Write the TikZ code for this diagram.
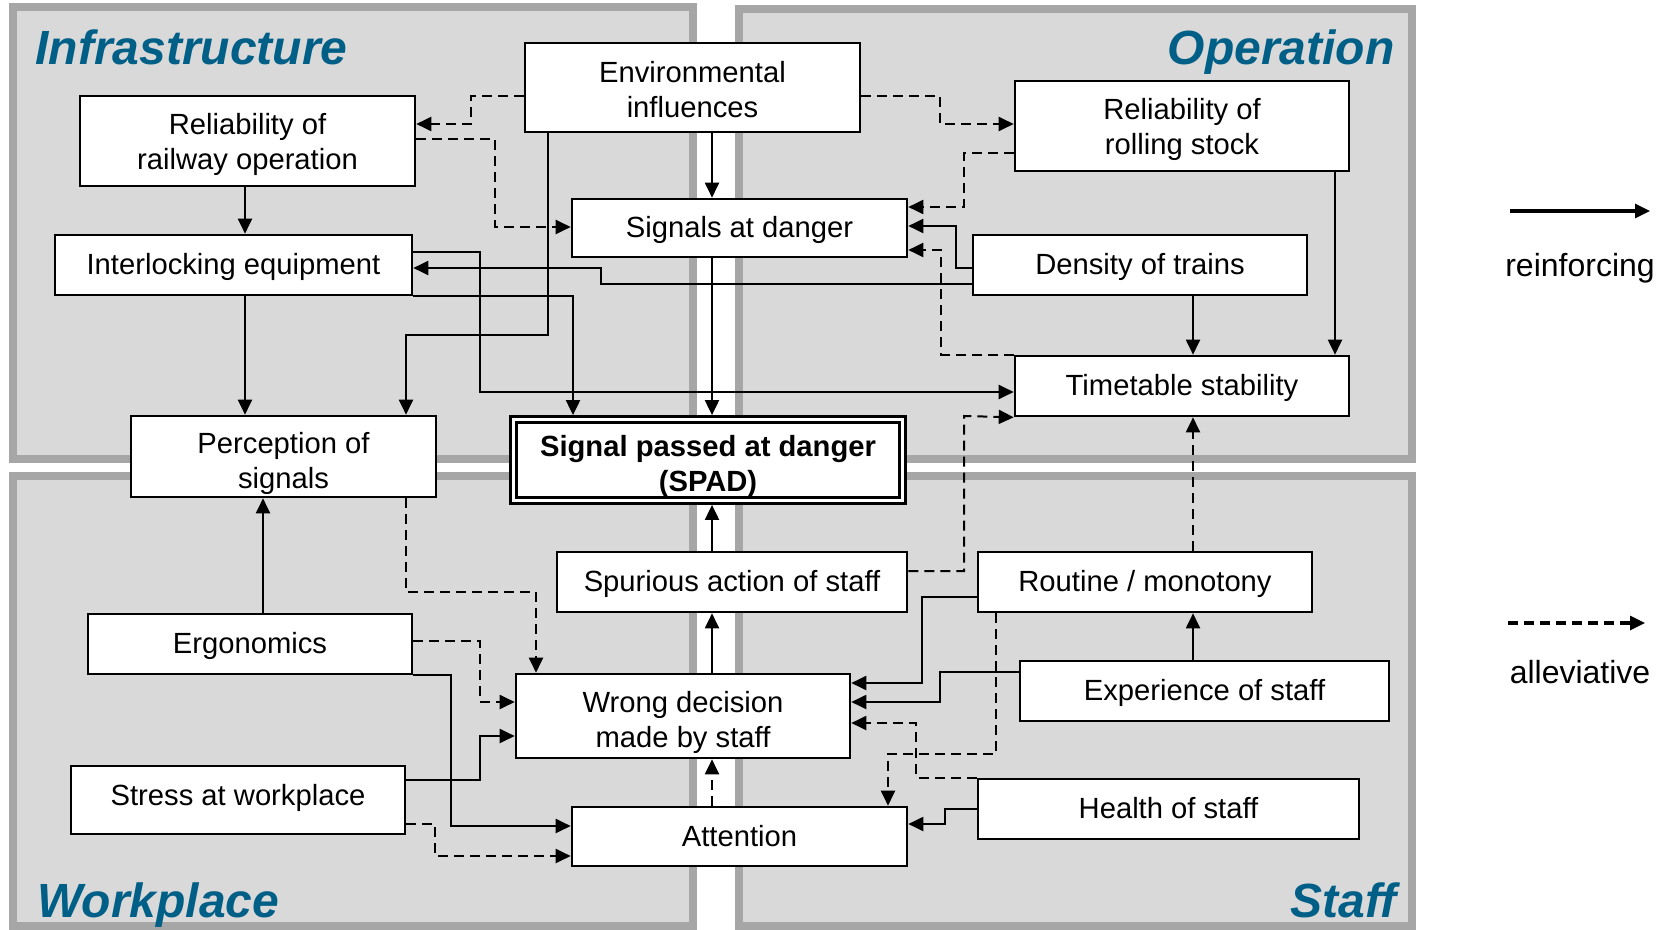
\documentclass[tikz,border=0pt]{standalone}
\usepackage{fontspec}
\setmainfont{Liberation Sans}
\usetikzlibrary{arrows.meta}
\definecolor{panelfill}{HTML}{D9D9D9}
\definecolor{panelrule}{HTML}{A6A6A6}
\definecolor{headblue}{RGB}{0,95,135}
\begin{document}
\begin{tikzpicture}[x=0.5pt,y=-0.5pt,
  panel/.style={draw=panelrule, fill=panelfill, line width=4pt},
  heading/.style={font=\fontsize{24}{28}\selectfont\bfseries\itshape, text=headblue, inner sep=0pt},
  box/.style={draw, fill=white, line width=1.3pt, align=center, inner sep=0pt,
    text depth=1pt, font=\fontsize{14.6}{17.5}\selectfont},
  spadbox/.style={box, double, double distance=1.25pt, line width=1.5pt, outer sep=2.2pt,
    font=\fontsize{14.6}{17.5}\selectfont\bfseries},
  reinf/.style={line width=1pt, -{Triangle[length=7.5pt,width=7pt]}},
  alle/.style={reinf, dash pattern=on 5pt off 3pt},
  legendtext/.style={font=\fontsize{16}{19}\selectfont, inner sep=0pt},
]
\useasboundingbox (0,0) rectangle (1668,930);

% four thematic panels
\draw[panel] (13,7) rectangle (693,459);
\draw[panel] (739,9) rectangle (1412,459);
\draw[panel] (13,476) rectangle (693,926);
\draw[panel] (739,476) rectangle (1412,926);

\node[heading, anchor=base west] (hinfra) at (35,65) {Infrastructure};
\node[heading, anchor=base east] (hoper) at (1395,65) {Operation};
\node[heading, anchor=base west] (hwork) at (37,917) {Workplace};
\node[heading, anchor=base east] (hstaff) at (1397,917) {Staff};

% factors
\node[box, text height=29.2pt, minimum width=167.5pt, minimum height=45pt] (relrail) at (247.5,141) {Reliability of\\railway operation};
\node[box, minimum width=178.5pt, minimum height=30pt] (inter) at (233.5,265) {Interlocking equipment};
\node[box, text height=33.4pt, minimum width=152.5pt, minimum height=40.5pt] (percep) at (283.5,456.5) {Perception of\\signals};
\node[box, text height=31.3pt, minimum width=167.5pt, minimum height=44.5pt] (env) at (692.5,87.5) {Environmental\\influences};
\node[box, minimum width=167.5pt, minimum height=29pt] (sigdanger) at (739.5,228) {Signals at danger};
\node[spadbox, text height=32.4pt, minimum width=194.5pt, minimum height=40.5pt] (spad) at (708,460) {Signal passed at danger\\(SPAD)};
\node[box, text height=29.2pt, minimum width=167pt, minimum height=45pt] (relroll) at (1182,126) {Reliability of\\rolling stock};
\node[box, minimum width=167pt, minimum height=30pt] (density) at (1140,265) {Density of trains};
\node[box, minimum width=167pt, minimum height=30pt] (timetable) at (1182,386) {Timetable stability};
\node[box, minimum width=175pt, minimum height=30pt] (spurious) at (732,582) {Spurious action of staff};
\node[box, text height=32.4pt, minimum width=167pt, minimum height=42pt] (wrong) at (683,716) {Wrong decision\\made by staff};
\node[box, minimum width=167.5pt, minimum height=29.5pt] (attention) at (739.5,836.5) {Attention};
\node[box, minimum width=167pt, minimum height=30pt] (routine) at (1145,582) {Routine / monotony};
\node[box, minimum width=184.5pt, minimum height=30pt] (experience) at (1204.5,691) {Experience of staff};
\node[box, minimum width=190.5pt, minimum height=30pt] (health) at (1168.5,809) {Health of staff};
\node[box, minimum width=162pt, minimum height=30pt] (ergo) at (250,644) {Ergonomics};
\node[box, text depth=5.2pt, minimum width=167pt, minimum height=34pt] (stress) at (238,800) {Stress at workplace};

% influences in the infrastructure panel
\draw[alle] (env.west |- 0,96) -| (471,124) -- (relrail.east |- 0,124);
\draw[alle] (relrail.east |- 0,139) -| (495,227) -- (sigdanger.west |- 0,227);
\draw[reinf] (relrail.south -| 245,0) -- (inter.north -| 245,0);
\draw[reinf] (inter.south -| 245,0) -- (percep.north -| 245,0);
\draw[reinf] (env.south -| 548,0) |- (406,335) -- (percep.north -| 406,0);
\draw[reinf] (inter.east |- 0,252) -| (480,392) -- (timetable.west |- 0,392);
\draw[reinf] (density.west |- 0,284) -| (601,268) -- (inter.east |- 0,268);
\draw[reinf] (inter.south east) -| (spad.north -| 573,0);
\draw[reinf] (env.south -| 712,0) -- (sigdanger.north -| 712,0);
\draw[reinf] (sigdanger.south -| 712,0) -- (spad.north -| 712,0);

% influences in the operation panel
\draw[alle] (env.east |- 0,96) -| (940,124) -- (relroll.west |- 0,124);
\draw[alle] (relroll.west |- 0,153) -| (964,207) -- (sigdanger.east |- 0,207);
\draw[reinf] (density.west |- 0,268) -| (956,226) -- (sigdanger.east |- 0,226);
\draw[alle] (timetable.north west) -| (941,250) -- (sigdanger.east |- 0,250);
\draw[reinf] (density.south -| 1193,0) -- (timetable.north -| 1193,0);
\draw[reinf] (relroll.south -| 1335,0) -- (timetable.north -| 1335,0);

% influences in the staff panel
\draw[alle] (spurious.east |- 0,571) -| (964,416) -- (timetable.south west);
\draw[alle] (routine.north -| 1193,0) -- (timetable.south -| 1193,0);
\draw[reinf] (experience.north -| 1193,0) -- (routine.south -| 1193,0);
\draw[reinf] (spurious.north -| 712,0) -- (spad.south -| 712,0);
\draw[reinf] (wrong.north -| 712,0) -- (spurious.south -| 712,0);
\draw[alle] (attention.north -| 712,0) -- (wrong.south -| 712,0);
\draw[reinf] (routine.west |- 0,597) -| (922,683) -- (wrong.east |- 0,683);
\draw[reinf] (experience.west |- 0,672) -| (940,702) -- (wrong.east |- 0,702);
\draw[alle] (health.north west) -| (916,723) -- (wrong.east |- 0,723);
\draw[alle] (routine.south -| 996,0) |- (888,754) -- (attention.north -| 888,0);
\draw[reinf] (health.west |- 0,809) -| (945,824) -- (attention.east |- 0,824);

% influences in the workplace panel
\draw[alle] (percep.south -| 406,0) |- (536,592) -- (wrong.north -| 536,0);
\draw[reinf] (ergo.north -| 263,0) -- (percep.south -| 263,0);
\draw[alle] (ergo.east |- 0,641) -| (480,702) -- (wrong.west |- 0,702);
\draw[reinf] (ergo.south east) -| (451,826) -- (attention.west |- 0,826);
\draw[reinf] (stress.east |- 0,780) -| (480,736) -- (wrong.west |- 0,736);
\draw[alle] (stress.east |- 0,824) -| (435,856) -- (attention.west |- 0,856);

% legend
\coordinate (rs) at (1510,211);
\coordinate (re) at (1650,211);
\draw[reinf, line width=1.6pt] (rs) -- (re);
\node[legendtext] (rlab) at (1580,268) {reinforcing};
\coordinate (as) at (1508,623);
\coordinate (ae) at (1645,623);
\draw[alle, line width=1.6pt] (as) -- (ae);
\node[legendtext] (alab) at (1580,672) {alleviative};
\end{tikzpicture}
\end{document}
